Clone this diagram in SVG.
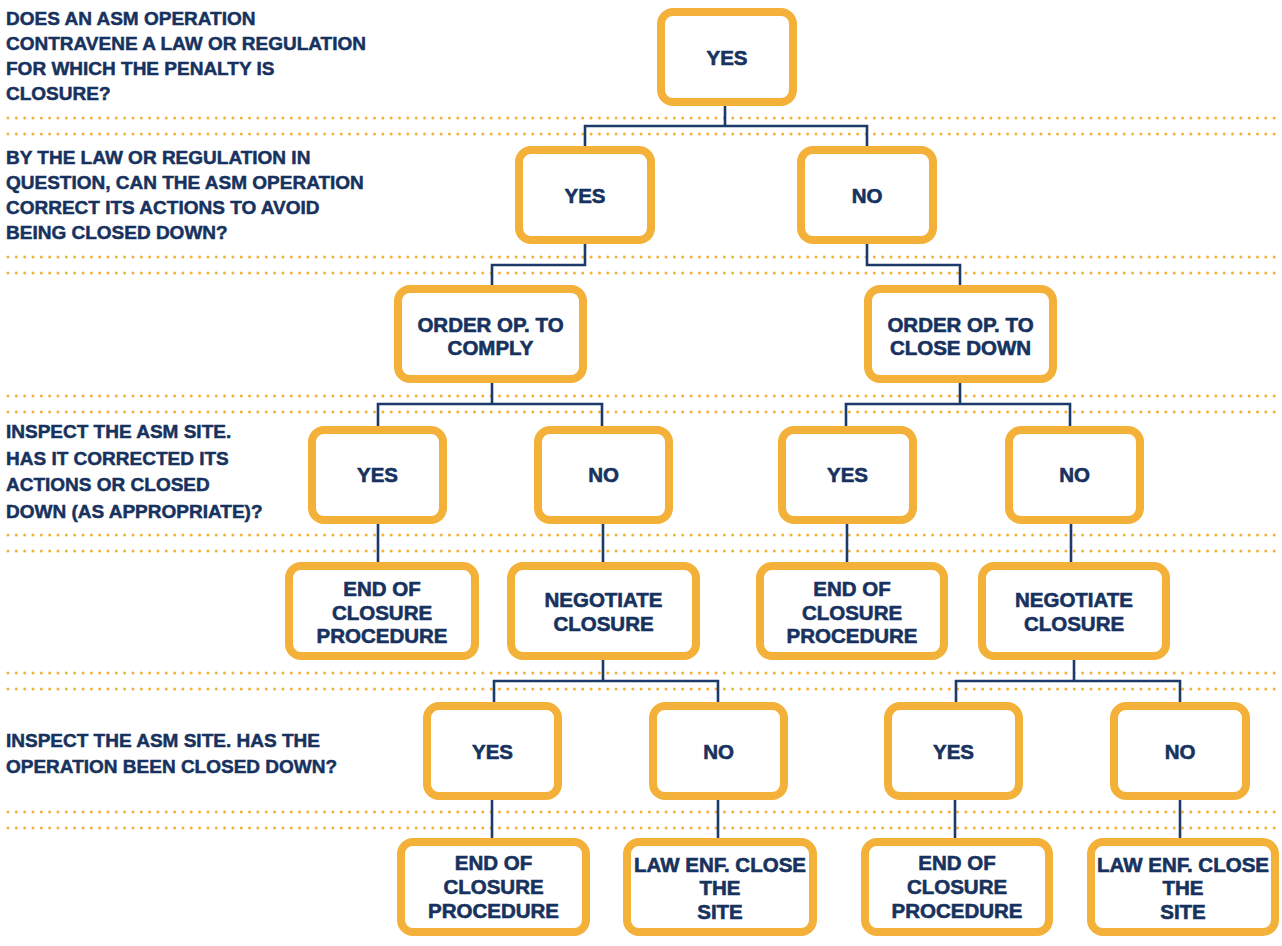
<svg xmlns="http://www.w3.org/2000/svg" width="1282" height="946" viewBox="0 0 1282 946">
  <style>
    .dots { stroke: #F4B13A; stroke-width: 3; stroke-linecap: round; stroke-dasharray: 0 8.33; fill: none; }
    .wire { stroke: #1B3A6A; stroke-width: 2.6; fill: none; }
    .box rect { fill: #FFFFFF; stroke: #F4B13A; stroke-width: 8; }
    .box text { font-family: "Liberation Sans", Arial, sans-serif; font-weight: bold; font-size: 20.5px; fill: #17325E; stroke: #17325E; stroke-width: 0.6; text-anchor: middle; }
    .q { font-family: "Liberation Sans", Arial, sans-serif; font-weight: bold; font-size: 19px; fill: #17325E; stroke: #17325E; stroke-width: 0.5; }
  </style>
  <rect width="1282" height="946" fill="#FFFFFF"/>

  <!-- row separators -->
  <g id="separators">
    <path class="dots" d="M8 118H1282M8 134H1282M8 257H1282M8 273H1282M8 396H1282M8 412H1282M8 535H1282M8 551H1282M8 673H1282M8 689H1282M8 812H1282M8 828H1282"/>
  </g>

  <!-- question labels -->
  <g id="questions">
    <text class="q" x="6" y="25">DOES AN ASM OPERATION</text>
    <text class="q" x="6" y="50">CONTRAVENE A LAW OR REGULATION</text>
    <text class="q" x="6" y="75">FOR WHICH THE PENALTY IS</text>
    <text class="q" x="6" y="100">CLOSURE?</text>
    <text class="q" x="6" y="164">BY THE LAW OR REGULATION IN</text>
    <text class="q" x="6" y="189">QUESTION, CAN THE ASM OPERATION</text>
    <text class="q" x="6" y="214">CORRECT ITS ACTIONS TO AVOID</text>
    <text class="q" x="6" y="239">BEING CLOSED DOWN?</text>
    <text class="q" x="6" y="438">INSPECT THE ASM SITE.</text>
    <text class="q" x="6" y="464.5">HAS IT CORRECTED ITS</text>
    <text class="q" x="6" y="491">ACTIONS OR CLOSED</text>
    <text class="q" x="6" y="517.5">DOWN (AS APPROPRIATE)?</text>
    <text class="q" x="6" y="747">INSPECT THE ASM SITE. HAS THE</text>
    <text class="q" x="6" y="773">OPERATION BEEN CLOSED DOWN?</text>
  </g>

  <!-- connectors -->
  <g id="connectors">
    <path class="wire" d="M725 106V126M585 146V126H867V146"/>
    <path class="wire" d="M585 244V265H492V285M867 244V265H960V285"/>
    <path class="wire" d="M492 383V404M378 426V404H602V426"/>
    <path class="wire" d="M960 383V404M846 426V404H1070V426"/>
    <path class="wire" d="M378 523V562M603 523V562M847 523V562M1071 523V562"/>
    <path class="wire" d="M603 660V681M494 702V681H718V702"/>
    <path class="wire" d="M1074 660V681M956 702V681H1180V702"/>
    <path class="wire" d="M492 800V838M718 800V838M955 800V838M1180 800V838"/>
  </g>

  <!-- level 1 -->
  <g id="n-root" class="box"><rect x="661" y="12" width="132" height="90" rx="12"/><text x="727" y="65">YES</text></g>

  <!-- level 2 -->
  <g id="n-correct-yes" class="box"><rect x="519" y="150" width="132" height="90" rx="12"/><text x="585" y="203">YES</text></g>
  <g id="n-correct-no" class="box"><rect x="801" y="150" width="132" height="90" rx="12"/><text x="867" y="203">NO</text></g>

  <!-- level 3 -->
  <g id="n-order-comply" class="box"><rect x="398" y="289" width="185" height="90" rx="12"/><text x="490.5" y="332">ORDER OP. TO</text><text x="490.5" y="355">COMPLY</text></g>
  <g id="n-order-close" class="box"><rect x="868" y="289" width="185" height="90" rx="12"/><text x="960.5" y="332">ORDER OP. TO</text><text x="960.5" y="355">CLOSE DOWN</text></g>

  <!-- level 4 -->
  <g id="n-insp1-yes-a" class="box"><rect x="312" y="430" width="131" height="90" rx="12"/><text x="377.5" y="482">YES</text></g>
  <g id="n-insp1-no-a" class="box"><rect x="538" y="430" width="131" height="90" rx="12"/><text x="603.5" y="482">NO</text></g>
  <g id="n-insp1-yes-b" class="box"><rect x="782" y="430" width="131" height="90" rx="12"/><text x="847.5" y="482">YES</text></g>
  <g id="n-insp1-no-b" class="box"><rect x="1009" y="430" width="131" height="90" rx="12"/><text x="1074.5" y="482">NO</text></g>

  <!-- level 5 -->
  <g id="n-end-a" class="box"><rect x="289" y="566" width="186" height="90" rx="12"/><text x="382" y="596">END OF</text><text x="382" y="620">CLOSURE</text><text x="382" y="643">PROCEDURE</text></g>
  <g id="n-negotiate-a" class="box"><rect x="511" y="566" width="185" height="90" rx="12"/><text x="603.5" y="607">NEGOTIATE</text><text x="603.5" y="631">CLOSURE</text></g>
  <g id="n-end-b" class="box"><rect x="760" y="566" width="184" height="90" rx="12"/><text x="852" y="596">END OF</text><text x="852" y="620">CLOSURE</text><text x="852" y="643">PROCEDURE</text></g>
  <g id="n-negotiate-b" class="box"><rect x="982" y="566" width="184" height="90" rx="12"/><text x="1074" y="607">NEGOTIATE</text><text x="1074" y="631">CLOSURE</text></g>

  <!-- level 6 -->
  <g id="n-insp2-yes-a" class="box"><rect x="427" y="706" width="131" height="90" rx="12"/><text x="492.5" y="759">YES</text></g>
  <g id="n-insp2-no-a" class="box"><rect x="653" y="706" width="131" height="90" rx="12"/><text x="718.5" y="759">NO</text></g>
  <g id="n-insp2-yes-b" class="box"><rect x="888" y="706" width="131" height="90" rx="12"/><text x="953.5" y="759">YES</text></g>
  <g id="n-insp2-no-b" class="box"><rect x="1114" y="706" width="132" height="90" rx="12"/><text x="1180" y="759">NO</text></g>

  <!-- level 7 -->
  <g id="n-end-c" class="box"><rect x="401" y="842" width="185" height="90" rx="12"/><text x="493.5" y="870">END OF</text><text x="493.5" y="894">CLOSURE</text><text x="493.5" y="918">PROCEDURE</text></g>
  <g id="n-lawenf-a" class="box"><rect x="627" y="842" width="186" height="90" rx="12"/><text x="720" y="872">LAW ENF. CLOSE</text><text x="720" y="895">THE</text><text x="720" y="919">SITE</text></g>
  <g id="n-end-d" class="box"><rect x="865" y="842" width="184" height="90" rx="12"/><text x="957" y="870">END OF</text><text x="957" y="894">CLOSURE</text><text x="957" y="918">PROCEDURE</text></g>
  <g id="n-lawenf-b" class="box"><rect x="1091" y="842" width="184" height="90" rx="12"/><text x="1183" y="872">LAW ENF. CLOSE</text><text x="1183" y="895">THE</text><text x="1183" y="919">SITE</text></g>
</svg>
